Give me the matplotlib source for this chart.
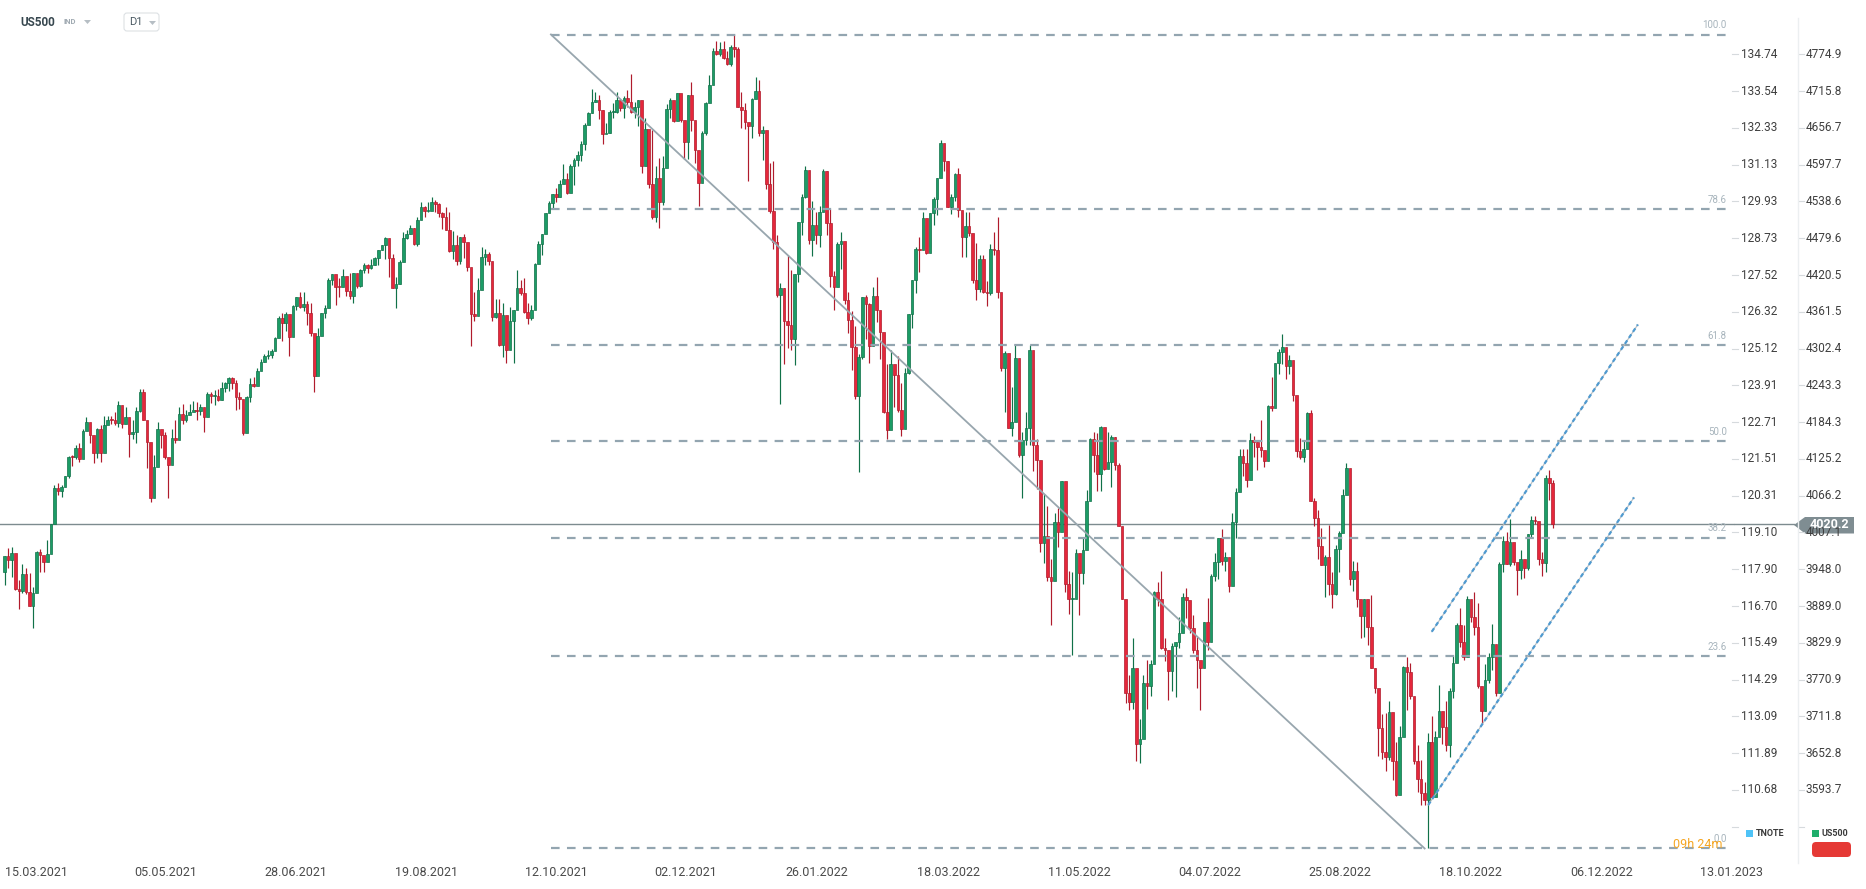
import matplotlib
matplotlib.use("Agg")
import matplotlib.pyplot as plt
from matplotlib.lines import Line2D
from matplotlib.patches import FancyBboxPatch, Polygon
from matplotlib.transforms import blended_transform_factory, IdentityTransform
from matplotlib import font_manager

# US500 daily candles, 15.03.2021 .. 02.12.2022 (one line per month)
opens = [
    3943, 3969, 3963, 3974, 3916, 3913, 3941, 3911, 3889, 3910, 3975, 3971, 3959,
    3973, 4020, 4078, 4074, 4080, 4097, 4129, 4128, 4142, 4125, 4170, 4185, 4163, 4135, 4173, 4135, 4180, 4188, 4187, 4183, 4211,
    4181, 4193, 4165, 4168, 4202, 4233, 4188, 4152, 4063, 4113, 4174, 4163, 4128, 4116, 4159, 4156, 4197, 4188, 4196, 4201,
    4204, 4202, 4208, 4193, 4230, 4227, 4227, 4220, 4239, 4247, 4255, 4247, 4224, 4222, 4167, 4225, 4246, 4242, 4267, 4281, 4291, 4292,
    4298, 4320, 4352, 4344, 4358, 4321, 4370, 4385, 4369, 4374, 4360, 4327, 4259, 4323, 4359, 4368, 4412, 4422, 4402, 4401, 4419,
    4395, 4387, 4423, 4403, 4429, 4437, 4432, 4437, 4448, 4461, 4468, 4480, 4448, 4400, 4406, 4442, 4480, 4486, 4496, 4470, 4509, 4529,
    4523, 4524, 4537, 4535, 4520, 4514, 4493, 4459, 4469, 4443, 4481, 4474, 4433, 4358, 4354, 4396, 4449, 4455, 4443, 4353, 4360,
    4308, 4357, 4300, 4346, 4364, 4400, 4391, 4361, 4351, 4364, 4438, 4471, 4487, 4520, 4536, 4550, 4545, 4567, 4575, 4552, 4596,
    4605, 4614, 4631, 4661, 4680, 4698, 4702, 4685, 4647, 4649, 4683, 4683, 4701, 4689, 4705, 4698, 4683, 4691, 4702, 4595, 4655,
    4567, 4513, 4577, 4538, 4592, 4687, 4701, 4668, 4712, 4669, 4634, 4710, 4669, 4621, 4568, 4649, 4697, 4726, 4781, 4776, 4783, 4769,
    4760, 4786, 4783, 4691, 4686, 4667, 4660, 4703, 4716, 4649, 4653, 4567, 4523, 4473, 4388, 4400, 4346, 4340, 4317, 4422,
    4506, 4546, 4589, 4477, 4501, 4484, 4522, 4587, 4504, 4419, 4402, 4471, 4475, 4380, 4349, 4305, 4226, 4289, 4385,
    4374, 4306, 4387, 4364, 4329, 4201, 4171, 4278, 4260, 4204, 4173, 4263, 4358, 4412, 4463, 4461, 4512, 4456, 4520, 4543, 4576, 4632, 4603,
    4530, 4546, 4583, 4525, 4481, 4500, 4488, 4413, 4398, 4447, 4393, 4392, 4462, 4460, 4394, 4272, 4296, 4175, 4184, 4288,
    4132, 4155, 4175, 4300, 4147, 4123, 3991, 4001, 3935, 3930, 4024, 4008, 4089, 3924, 3901, 3901, 3974, 3942, 3979, 4058, 4158,
    4132, 4101, 4177, 4109, 4121, 4161, 4116, 4018, 3901, 3750, 3735, 3790, 3667, 3675, 3765, 3760, 3796, 3912, 3900, 3822, 3819,
    3785, 3825, 3831, 3845, 3903, 3899, 3854, 3819, 3802, 3790, 3863, 3831, 3937, 3960, 3999, 3962, 3967, 3921, 4024, 4072,
    4130, 4119, 4091, 4155, 4152, 4145, 4140, 4122, 4210, 4207, 4280, 4297, 4305, 4274, 4284, 4228, 4138, 4129, 4141, 4199, 4058, 4031, 3986,
    3955, 3967, 3924, 3908, 3980, 4006, 4067, 4110, 3933, 3946, 3901, 3873, 3900, 3856, 3790, 3758, 3693, 3655, 3647, 3719, 3640,
    3586, 3678, 3791, 3783, 3745, 3640, 3612, 3589, 3577, 3670, 3583, 3678, 3720, 3695, 3666, 3753, 3797, 3859, 3831, 3807, 3901,
    3872, 3856, 3760, 3720, 3771, 3807, 3828, 3749, 3956, 3993, 3957, 3992, 3959, 3947, 3965, 3950, 4004, 4027, 4026, 3964, 3958,
    4095, 4086,
]
highs = [
    3970, 3982, 3983, 3970, 3931, 3956, 3950, 3942, 3919, 3978, 3981, 3969, 3995,
    4021, 4084, 4087, 4084, 4098, 4130, 4131, 4148, 4151, 4174, 4192, 4180, 4160, 4175, 4179, 4194, 4194, 4194, 4201, 4219, 4199,
    4209, 4187, 4187, 4208, 4238, 4237, 4162, 4135, 4131, 4184, 4171, 4169, 4117, 4173, 4188, 4209, 4214, 4203, 4213, 4218,
    4217, 4213, 4205, 4233, 4232, 4236, 4238, 4249, 4249, 4256, 4257, 4252, 4233, 4208, 4226, 4255, 4256, 4271, 4286, 4293, 4300, 4302,
    4321, 4355, 4359, 4361, 4331, 4372, 4386, 4393, 4393, 4379, 4376, 4302, 4336, 4359, 4372, 4415, 4422, 4417, 4416, 4430, 4412,
    4423, 4424, 4417, 4430, 4440, 4439, 4446, 4449, 4461, 4468, 4481, 4462, 4454, 4418, 4444, 4490, 4493, 4501, 4496, 4513, 4538, 4532,
    4537, 4546, 4541, 4536, 4521, 4529, 4521, 4491, 4485, 4482, 4486, 4471, 4403, 4394, 4416, 4465, 4463, 4457, 4420, 4382, 4382,
    4375, 4355, 4369, 4365, 4429, 4413, 4416, 4375, 4372, 4440, 4475, 4487, 4520, 4540, 4551, 4560, 4573, 4598, 4585, 4598, 4608,
    4620, 4635, 4664, 4683, 4719, 4715, 4709, 4685, 4664, 4685, 4697, 4714, 4701, 4708, 4718, 4744, 4699, 4702, 4664, 4672, 4646,
    4653, 4595, 4608, 4612, 4695, 4705, 4697, 4713, 4711, 4660, 4710, 4731, 4666, 4587, 4651, 4698, 4741, 4785, 4797, 4795, 4796, 4780,
    4790, 4806, 4787, 4715, 4697, 4663, 4704, 4738, 4734, 4660, 4622, 4601, 4603, 4484, 4407, 4400, 4453, 4428, 4422, 4506,
    4550, 4595, 4542, 4539, 4521, 4531, 4590, 4588, 4527, 4427, 4473, 4490, 4457, 4394, 4362, 4339, 4294, 4385, 4389,
    4376, 4401, 4417, 4343, 4327, 4277, 4300, 4268, 4291, 4247, 4271, 4358, 4412, 4465, 4482, 4522, 4501, 4520, 4546, 4576, 4637, 4627, 4603,
    4550, 4584, 4593, 4504, 4521, 4521, 4464, 4472, 4453, 4453, 4411, 4471, 4489, 4513, 4385, 4299, 4278, 4240, 4308, 4270,
    4169, 4200, 4308, 4271, 4158, 4081, 4069, 4050, 3964, 4039, 4046, 4090, 4051, 3946, 3944, 3981, 3955, 3999, 4075, 4159, 4168,
    4167, 4178, 4143, 4169, 4164, 4160, 4119, 3974, 3838, 3778, 3837, 3729, 3708, 3779, 3802, 3802, 3913, 3928, 3945, 3837, 3807,
    3829, 3832, 3871, 3910, 3918, 3881, 3874, 3839, 3796, 3864, 3902, 3940, 3974, 3999, 4012, 3975, 3954, 4039, 4079, 4141,
    4141, 4141, 4167, 4162, 4152, 4187, 4137, 4211, 4257, 4280, 4301, 4326, 4302, 4292, 4266, 4195, 4159, 4156, 4200, 4204, 4062, 4044, 4015,
    3971, 4019, 3943, 3987, 4010, 4077, 4119, 4037, 3962, 3959, 3880, 3900, 3876, 3907, 3790, 3727, 3716, 3717, 3736, 3687, 3671,
    3697, 3793, 3807, 3797, 3708, 3666, 3641, 3606, 3685, 3713, 3689, 3762, 3716, 3737, 3757, 3810, 3862, 3886, 3859, 3905, 3893,
    3911, 3894, 3750, 3796, 3814, 3860, 3818, 3960, 4001, 4008, 4029, 3983, 3955, 3979, 3962, 4004, 4034, 4034, 4012, 3976, 4100,
    4108, 4092,
]
lows = [
    3923, 3950, 3936, 3914, 3885, 3910, 3908, 3889, 3853, 3917, 3944, 3944, 3966,
    3992, 4034, 4068, 4064, 4083, 4095, 4114, 4125, 4120, 4139, 4171, 4151, 4119, 4126, 4120, 4138, 4183, 4181, 4179, 4177, 4175,
    4188, 4128, 4158, 4150, 4201, 4188, 4111, 4056, 4069, 4126, 4143, 4125, 4062, 4118, 4151, 4167, 4182, 4184, 4197, 4203,
    4188, 4195, 4168, 4206, 4215, 4211, 4219, 4220, 4233, 4234, 4238, 4203, 4205, 4164, 4173, 4217, 4240, 4256, 4268, 4281, 4286, 4287,
    4301, 4322, 4314, 4330, 4290, 4329, 4365, 4368, 4363, 4340, 4322, 4233, 4262, 4324, 4351, 4381, 4405, 4372, 4386, 4404, 4387,
    4382, 4375, 4400, 4402, 4424, 4424, 4430, 4436, 4436, 4460, 4447, 4418, 4400, 4368, 4406, 4451, 4479, 4486, 4468, 4467, 4514, 4513,
    4522, 4535, 4521, 4513, 4494, 4493, 4458, 4447, 4436, 4439, 4448, 4427, 4306, 4347, 4367, 4406, 4436, 4436, 4346, 4352, 4306,
    4289, 4279, 4310, 4279, 4385, 4389, 4360, 4342, 4348, 4386, 4448, 4453, 4496, 4524, 4526, 4538, 4546, 4569, 4551, 4560, 4565,
    4595, 4604, 4621, 4663, 4681, 4698, 4671, 4631, 4648, 4648, 4673, 4680, 4684, 4673, 4690, 4680, 4673, 4660, 4585, 4625, 4561,
    4511, 4505, 4496, 4533, 4631, 4672, 4666, 4679, 4667, 4607, 4606, 4652, 4600, 4531, 4583, 4645, 4703, 4733, 4773, 4772, 4768, 4758,
    4756, 4770, 4690, 4657, 4655, 4572, 4640, 4706, 4643, 4605, 4559, 4520, 4462, 4386, 4213, 4277, 4304, 4300, 4276, 4410,
    4484, 4544, 4470, 4451, 4471, 4465, 4547, 4484, 4401, 4365, 4429, 4430, 4374, 4328, 4268, 4222, 4104, 4286, 4318,
    4279, 4322, 4345, 4285, 4199, 4157, 4224, 4209, 4200, 4162, 4188, 4262, 4335, 4391, 4425, 4466, 4455, 4466, 4501, 4517, 4581, 4588, 4530,
    4518, 4539, 4514, 4450, 4450, 4483, 4408, 4381, 4393, 4392, 4371, 4389, 4452, 4384, 4267, 4201, 4175, 4162, 4189, 4128,
    4063, 4147, 4147, 4106, 4077, 3976, 3958, 3929, 3859, 3963, 3983, 4034, 3912, 3877, 3810, 3910, 3875, 3925, 3985, 4077, 4104,
    4074, 4074, 4107, 4110, 4080, 4107, 4017, 3900, 3734, 3722, 3723, 3640, 3637, 3715, 3723, 3744, 3805, 3889, 3820, 3800, 3738,
    3752, 3743, 3821, 3859, 3870, 3845, 3814, 3758, 3722, 3818, 3818, 3860, 3930, 3933, 3955, 3946, 3911, 3942, 3999, 4080,
    4098, 4080, 4107, 4128, 4107, 4128, 4112, 4175, 4202, 4219, 4262, 4278, 4253, 4262, 4218, 4129, 4125, 4120, 4147, 4057, 4017, 3965, 3955,
    3904, 3907, 3886, 3906, 3944, 4023, 4084, 3922, 3913, 3888, 3838, 3839, 3827, 3789, 3749, 3648, 3644, 3624, 3641, 3610, 3584,
    3604, 3723, 3722, 3739, 3636, 3590, 3569, 3570, 3500, 3584, 3638, 3686, 3668, 3656, 3647, 3742, 3799, 3824, 3803, 3808, 3863,
    3843, 3758, 3699, 3721, 3766, 3786, 3745, 3860, 3944, 3956, 3954, 3955, 3906, 3933, 3934, 3947, 3999, 4020, 3955, 3938, 3944,
    4060, 4015,
]
closes = [
    3969, 3963, 3974, 3916, 3913, 3941, 3911, 3889, 3910, 3975, 3971, 3959, 3973,
    4020, 4078, 4074, 4080, 4097, 4129, 4128, 4142, 4125, 4170, 4185, 4163, 4135, 4173, 4135, 4180, 4188, 4187, 4183, 4211, 4181,
    4193, 4165, 4168, 4202, 4233, 4188, 4152, 4063, 4113, 4174, 4163, 4128, 4116, 4159, 4156, 4197, 4188, 4196, 4201, 4204,
    4202, 4208, 4193, 4230, 4227, 4227, 4220, 4239, 4247, 4255, 4247, 4224, 4222, 4167, 4225, 4246, 4242, 4267, 4281, 4291, 4292, 4298,
    4320, 4352, 4344, 4358, 4321, 4370, 4385, 4369, 4374, 4360, 4327, 4259, 4323, 4359, 4368, 4412, 4422, 4402, 4401, 4419, 4395,
    4387, 4423, 4403, 4429, 4437, 4432, 4437, 4448, 4461, 4468, 4480, 4448, 4400, 4406, 4442, 4480, 4486, 4496, 4470, 4509, 4529, 4523,
    4524, 4537, 4535, 4520, 4514, 4493, 4459, 4469, 4443, 4481, 4474, 4433, 4358, 4354, 4396, 4449, 4455, 4443, 4353, 4360, 4308,
    4357, 4300, 4346, 4364, 4400, 4391, 4361, 4351, 4364, 4438, 4471, 4487, 4520, 4536, 4550, 4545, 4567, 4575, 4552, 4596, 4605,
    4614, 4631, 4661, 4680, 4698, 4702, 4685, 4647, 4649, 4683, 4683, 4701, 4689, 4705, 4698, 4683, 4691, 4702, 4595, 4655, 4567,
    4513, 4577, 4538, 4592, 4687, 4701, 4668, 4712, 4669, 4634, 4710, 4669, 4621, 4568, 4649, 4697, 4726, 4781, 4776, 4783, 4769, 4760,
    4786, 4783, 4691, 4686, 4667, 4660, 4703, 4716, 4649, 4653, 4567, 4523, 4473, 4388, 4400, 4346, 4340, 4317, 4422, 4506,
    4546, 4589, 4477, 4501, 4484, 4522, 4587, 4504, 4419, 4402, 4471, 4475, 4380, 4349, 4305, 4226, 4289, 4385, 4374,
    4306, 4387, 4364, 4329, 4201, 4171, 4278, 4260, 4204, 4173, 4263, 4358, 4412, 4463, 4461, 4512, 4456, 4520, 4543, 4576, 4632, 4603, 4530,
    4546, 4583, 4525, 4481, 4500, 4488, 4413, 4398, 4447, 4393, 4392, 4462, 4460, 4394, 4272, 4296, 4175, 4184, 4288, 4132,
    4155, 4175, 4300, 4147, 4123, 3991, 4001, 3935, 3930, 4024, 4008, 4089, 3924, 3901, 3901, 3974, 3942, 3979, 4058, 4158, 4132,
    4101, 4177, 4109, 4121, 4161, 4116, 4018, 3901, 3750, 3735, 3790, 3667, 3675, 3765, 3760, 3796, 3912, 3900, 3822, 3819, 3785,
    3825, 3831, 3845, 3903, 3899, 3854, 3819, 3802, 3790, 3863, 3831, 3937, 3960, 3999, 3962, 3967, 3921, 4024, 4072, 4130,
    4119, 4091, 4155, 4152, 4145, 4140, 4122, 4210, 4207, 4280, 4297, 4305, 4274, 4284, 4228, 4138, 4129, 4141, 4199, 4058, 4031, 3986, 3955,
    3967, 3924, 3908, 3980, 4006, 4067, 4110, 3933, 3946, 3901, 3873, 3900, 3856, 3790, 3758, 3693, 3655, 3647, 3719, 3640, 3586,
    3678, 3791, 3783, 3745, 3640, 3612, 3589, 3577, 3670, 3583, 3678, 3720, 3695, 3666, 3753, 3797, 3859, 3831, 3807, 3901, 3872,
    3856, 3760, 3720, 3771, 3807, 3828, 3749, 3956, 3993, 3957, 3992, 3959, 3947, 3965, 3950, 4004, 4027, 4026, 3964, 3958, 4095,
    4086, 4020.2,
]

last_price = 4020.2

date_pos = [0, 36.4, 72.9, 109.7, 146.2, 182.5, 219.3, 256.4, 293.2, 329.8, 366.4, 403.0, 439.8, 476.4]
date_labels = ['15.03.2021', '05.05.2021', '28.06.2021', '19.08.2021', '12.10.2021', '02.12.2021',
               '26.01.2022', '18.03.2022', '11.05.2022', '04.07.2022', '25.08.2022', '18.10.2022',
               '06.12.2022', '13.01.2023']

price_ticks = [4774.9, 4715.8, 4656.7, 4597.7, 4538.6, 4479.6, 4420.5, 4361.5, 4302.4, 4243.3, 4184.3,
               4125.2, 4066.2, 4007.1, 3948.0, 3889.0, 3829.9, 3770.9, 3711.8, 3652.8, 3593.7, 3534.6]
us500_labels = ['4774.9', '4715.8', '4656.7', '4597.7', '4538.6', '4479.6', '4420.5', '4361.5', '4302.4',
                '4243.3', '4184.3', '4125.2', '4066.2', '4007.1', '3948.0', '3889.0', '3829.9', '3770.9',
                '3711.8', '3652.8', '3593.7', '']
tnote_labels = ['134.74', '133.54', '132.33', '131.13', '129.93', '128.73', '127.52', '126.32', '125.12',
                '123.91', '122.71', '121.51', '120.31', '119.10', '117.90', '116.70', '115.49', '114.29',
                '113.09', '111.89', '110.68', '']

# fibonacci retracement drawn from the top (100) to the october low (0)
fib_levels = [100.0, 78.6, 61.8, 50.0, 38.2, 23.6, 0.0]
fib_high = 4806.7
fib_low = 3499.7
fib_start = 153.5
fib_end = 483.9
fib_line_end = 399.0

# rising channel
chan_upper = [(401.0, 3847.8), (458.9, 4340.9)]
chan_lower = [(400.0, 3569.5), (457.8, 4063.3)]

W, H = 1866, 889
plt.rcParams['lines.scale_dashes'] = False
names = {f.name for f in font_manager.fontManager.ttflist}
base_font = ['Roboto', 'DejaVu Sans']
date_font = ['Liberation Sans Narrow', 'Roboto', 'DejaVu Sans'] if 'Liberation Sans Narrow' in names else base_font
plt.rcParams['font.family'] = base_font

fig = plt.figure(figsize=(W / 100, H / 100), dpi=100)
fig.patch.set_facecolor('white')
ax = fig.add_axes([0, 27 / H, 1735 / W, 862 / H])
ax.set_xlim(-1.29, 486.2)
ax.set_ylim(3478.0, 4862.1)
ax.axis('off')

# candles
G_FILL, G_EDGE = '#1c9c66', '#107148'
R_FILL, R_EDGE = '#e5273b', '#b01b2c'
xs = list(range(len(closes)))
for i in xs:
    o, h, l, c = opens[i], highs[i], lows[i], closes[i]
    up = c >= o
    edge = G_EDGE if up else R_EDGE
    fill = G_FILL if up else R_FILL
    ax.vlines(i, l, h, colors=edge, lw=0.85, zorder=2)
    ax.bar(i, max(abs(c - o), 1.6), bottom=min(o, c), width=0.74, color=fill,
           edgecolor=edge, linewidth=0.5, zorder=3)

# current price line
ax.axhline(last_price, color='#7d8b8f', lw=1.0, zorder=1)

# fibonacci
fib_col = '#93a5b0'
for lv in fib_levels:
    p = fib_low + lv / 100 * (fib_high - fib_low)
    ax.plot([fib_start, fib_end], [p, p], color=fib_col, lw=1.6, ls=(0, (6.2, 5.3)), zorder=4)
    ax.annotate(f'{lv:.1f}', (fib_end, p), xytext=(0, 3), textcoords='offset points',
                ha='right', va='bottom', fontsize=7, color='#a7b4bc', zorder=6)
ax.plot([fib_start, fib_line_end], [fib_high, fib_low], color='#98a6ae', lw=1.3, zorder=4)

# channel
for seg in (chan_upper, chan_lower):
    (x0, y0), (x1, y1) = seg
    ax.plot([x0, x1], [y0, y1], color='#b3babe', lw=0.8, zorder=4)
    ax.plot([x0, x1], [y0, y1], color='#4f9ad0', lw=1.6, ls=(0, (3.0, 2.2)), zorder=5)

# date axis
bx = blended_transform_factory(ax.transData, fig.transFigure)
for pos, lab in zip(date_pos, date_labels):
    fig.text(pos, (H - 873) / H, lab, transform=bx, ha='left', va='center',
             fontsize=9, color='#4a4a4a', family=date_font)

# price columns on the right
by = blended_transform_factory(fig.transFigure, ax.transData)
for v, t1, t2 in zip(price_ticks, tnote_labels, us500_labels):
    fig.add_artist(Line2D([1732 / W, 1738 / W], [v, v], transform=by, color='#d6dadd', lw=0.8))
    fig.add_artist(Line2D([1799 / W, 1804 / W], [v, v], transform=by, color='#d6dadd', lw=0.8))
    if t1:
        fig.text(1741.5 / W, v, t1, transform=by, ha='left', va='center', fontsize=8.5, color='#3f3f3f')
        fig.text(1806 / W, v, t2, transform=by, ha='left', va='center', fontsize=8.5, color='#3f3f3f')
fig.add_artist(Line2D([1798 / W, 1798 / W], [1 - 18 / H, 1 - 863 / H], color='#eceff1', lw=1.0))

# last price extension and tag
fig.add_artist(Line2D([1735 / W, 1794 / W], [last_price, last_price], transform=by, color='#7d8b8f', lw=1.0))
ident = IdentityTransform()
def px(x, y):
    return (x, H - y)
tag = Polygon([px(1794, 525), px(1805, 517), px(1854, 517), px(1854, 533.5), px(1805, 533.5)],
              closed=True, facecolor='#7f8d92', edgecolor='none', transform=ident)
fig.add_artist(tag)
fig.text(1829.5 / W, 1 - 525 / H, f'{last_price:.1f}', ha='center', va='center', fontsize=9,
         color='white', fontweight='bold')

# legend and countdown
fig.add_artist(FancyBboxPatch(px(1746, 837), 7, 7, boxstyle='square,pad=0', transform=ident,
                              facecolor='#4fc3f7', edgecolor='none'))
fig.text(1756 / W, 1 - 833.5 / H, 'TNOTE', ha='left', va='center', fontsize=6.5, fontweight='bold', color='#3a3a3a')
fig.add_artist(FancyBboxPatch(px(1812, 837), 7, 7, boxstyle='square,pad=0', transform=ident,
                              facecolor='#1fae6b', edgecolor='none'))
fig.text(1822 / W, 1 - 833.5 / H, 'US500', ha='left', va='center', fontsize=6.5, fontweight='bold', color='#3a3a3a')
fig.add_artist(FancyBboxPatch(px(1812, 857), 39, 15, boxstyle='round,pad=0,rounding_size=4',
                              transform=ident, facecolor='#e53935', edgecolor='none'))
fig.text(1673 / W, 1 - 844 / H, '09h 24m', ha='left', va='center', fontsize=9, color='#f5a623')

# header
fig.text(20 / W, 1 - 22 / H, 'US500', ha='left', va='center', fontsize=8.5, fontweight='bold', color='#37474f')
fig.text(63 / W, 1 - 22 / H, 'IND', ha='left', va='center', fontsize=5.5, fontweight='bold', color='#a0aab2')
fig.add_artist(Polygon([px(84, 20), px(91, 20), px(87.5, 24)], closed=True, transform=ident,
                       facecolor='#b6bec4', edgecolor='none'))
fig.add_artist(FancyBboxPatch(px(124, 31), 35, 18, boxstyle='round,pad=0,rounding_size=3', transform=ident,
                              facecolor='white', edgecolor='#dde1e4', lw=0.8))
fig.text(129 / W, 1 - 22 / H, 'D1', ha='left', va='center', fontsize=8, color='#4b5a63')
fig.add_artist(Polygon([px(149, 21), px(156, 21), px(152.5, 25)], closed=True, transform=ident,
                       facecolor='#b6bec4', edgecolor='none'))

fig.savefig('out.png', dpi=100, facecolor='white')
